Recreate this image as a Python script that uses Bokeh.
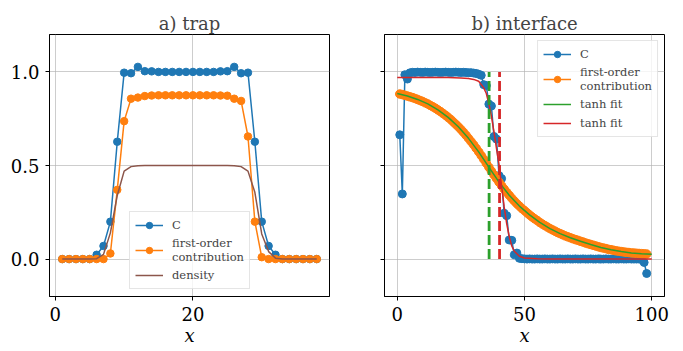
from bokeh.plotting import figure
from bokeh.layouts import row
from bokeh.models import (Range1d, FixedTicker, Legend, LegendItem,
                          ColumnDataSource, PrintfTickFormatter)
from bokeh.embed import file_html
from bokeh.resources import INLINE

# ---------------- data: a) trap ----------------
trap_x = list(range(1, 39))
trap_C = [0.0, 0.0, 0.0, 0.0, 0.0, 0.023, 0.07, 0.2, 0.627, 0.996,
          0.993, 1.027, 1.004, 1.003, 1.0, 1.0, 1.0, 1.0, 1.0, 1.0,
          1.0, 1.0, 1.0, 1.003, 1.004, 1.027, 0.993, 0.996, 0.627, 0.2,
          0.07, 0.023, 0.0, 0.0, 0.0, 0.0, 0.0, 0.0]
trap_first = [0.0, 0.0, 0.0, 0.0, 0.0, 0.0, 0.0, 0.03, 0.37, 0.737,
              0.857, 0.863, 0.871, 0.874, 0.875, 0.875, 0.875, 0.875, 0.875, 0.875,
              0.875, 0.875, 0.875, 0.874, 0.873, 0.857, 0.845, 0.655, 0.2, 0.01,
              0.0, 0.0, 0.0, 0.0, 0.0, 0.0, 0.0, 0.0]
trap_density = [0.0, 0.0, 0.0, 0.0, 0.0, 0.002, 0.025, 0.14, 0.34, 0.47,
                0.494, 0.499, 0.5, 0.5, 0.5, 0.5, 0.5, 0.5, 0.5, 0.5,
                0.5, 0.5, 0.5, 0.5, 0.5, 0.499, 0.494, 0.47, 0.357, 0.134,
                0.04, 0.005, 0.0, 0.0, 0.0, 0.0, 0.0, 0.0]

# ---------------- data: b) interface ----------------
intf_x = list(range(1, 99))
intf_C = [0.664, 0.348, 0.985, 0.962, 0.995, 0.998, 0.997, 0.999, 0.998, 0.997,
          0.999, 0.998, 0.997, 0.998, 0.999, 0.998, 0.997, 0.998, 0.999, 0.998,
          0.997, 0.998, 0.999, 0.998, 0.997, 0.998, 0.997, 0.996, 0.996, 0.994,
          0.992, 0.988, 0.982, 0.932, 0.927, 0.828, 0.818, 0.655, 0.641, 0.446,
          0.430, 0.245, 0.232, 0.102, 0.100, 0.023, 0.032, 0.004, 0.002, 0.001,
          0.0, 0.001, 0.0, 0.0, 0.001, 0.0, 0.0, 0.001, 0.0, 0.0,
          0.001, 0.0, 0.0, 0.001, 0.0, 0.0, 0.001, 0.0, 0.0, 0.001,
          0.0, 0.0, 0.001, 0.0, 0.0, 0.001, 0.0, 0.0, 0.001, 0.0,
          0.0, 0.001, 0.0, 0.0, 0.001, 0.0, 0.0, 0.001, 0.0, 0.0,
          0.001, 0.0, 0.0, 0.0, 0.0, -0.002, -0.018, -0.077]
intf_first = [0.882, 0.879, 0.875, 0.871, 0.867, 0.863, 0.858, 0.853, 0.847, 0.842,
              0.835, 0.829, 0.821, 0.814, 0.806, 0.797, 0.788, 0.778, 0.768, 0.757,
              0.746, 0.733, 0.720, 0.707, 0.693, 0.678, 0.662, 0.645, 0.628, 0.611,
              0.592, 0.573, 0.553, 0.533, 0.512, 0.491, 0.470, 0.450, 0.430, 0.411,
              0.392, 0.374, 0.357, 0.341, 0.325, 0.310, 0.296, 0.283, 0.270, 0.259,
              0.247, 0.236, 0.225, 0.215, 0.206, 0.196, 0.187, 0.179, 0.171, 0.163,
              0.156, 0.149, 0.142, 0.136, 0.130, 0.124, 0.119, 0.114, 0.109, 0.104,
              0.100, 0.095, 0.091, 0.086, 0.082, 0.078, 0.074, 0.070, 0.066, 0.062,
              0.059, 0.056, 0.052, 0.050, 0.047, 0.044, 0.042, 0.040, 0.038, 0.036,
              0.035, 0.033, 0.032, 0.031, 0.030, 0.029, 0.028, 0.027]
fit1_x = [0, 4, 8, 12, 16, 20, 24, 28, 32, 36, 40, 44, 48, 52, 56, 60, 64, 68,
          72, 76, 80, 84, 88, 92, 96, 100]
fit1_y = [0.885, 0.871, 0.853, 0.829, 0.797, 0.757, 0.707, 0.645, 0.573, 0.491,
          0.411, 0.341, 0.283, 0.236, 0.196, 0.163, 0.136, 0.114, 0.095, 0.078,
          0.062, 0.050, 0.040, 0.033, 0.029, 0.026]
fit2_x = [0, 10, 20, 25, 28, 30, 32, 34, 35, 36, 37, 38, 39, 40, 41, 42, 43,
          44, 45, 46, 48, 50, 55, 60, 80, 100]
fit2_y = [0.970, 0.970, 0.970, 0.968, 0.965, 0.960, 0.950, 0.915, 0.885, 0.830,
          0.765, 0.680, 0.590, 0.505, 0.390, 0.280, 0.190, 0.120, 0.070, 0.042,
          0.015, 0.006, 0.002, 0.001, 0.0, 0.0]
fit_centers = [36.1, 40.2]
fit_colors = ["#2ca02c", "#d62728"]
center_y0 = [0.0, 0.0]
center_y1 = [1.0, 1.0]

y_ticks = [0.0, 0.5, 1.0]

BLUE, ORANGE, GREEN, RED, BROWN = "#1f77b4", "#ff7f0e", "#2ca02c", "#d62728", "#8c564b"
SERIF = "DejaVu Serif"
H = 350
TOP = 34
BOTTOM = H - TOP - 262


def style(p, xticks, show_ylabels):
    p.outline_line_color = "black"
    p.outline_line_width = 1
    p.background_fill_color = "white"
    p.border_fill_color = "white"
    p.xaxis.ticker = FixedTicker(ticks=xticks)
    p.yaxis.ticker = FixedTicker(ticks=y_ticks)
    for ax in (p.xaxis[0], p.yaxis[0]):
        ax.axis_line_color = "black"
        ax.axis_line_width = 1
        ax.major_tick_line_color = "black"
        ax.major_tick_line_width = 1
        ax.major_tick_out = 4
        ax.major_tick_in = 0
        ax.minor_tick_line_color = None
        ax.major_label_text_font = SERIF
        ax.major_label_text_font_size = "18px"
        ax.major_label_text_color = "black"
    p.xaxis.major_label_standoff = 6
    p.yaxis.major_label_standoff = 6
    p.xaxis.axis_label = "x"
    p.xaxis.axis_label_text_font = SERIF
    p.xaxis.axis_label_text_font_style = "italic"
    p.xaxis.axis_label_text_font_size = "18px"
    p.xaxis.axis_label_text_color = "black"
    p.xaxis.axis_label_standoff = 1
    p.yaxis.formatter = PrintfTickFormatter(format="%.1f")
    if not show_ylabels:
        p.yaxis.major_label_overrides = {0: "", 0.5: "", 1: ""}
    p.grid.grid_line_color = "#b0b0b0"
    p.grid.grid_line_width = 0.8
    p.grid.grid_line_alpha = 0.8
    p.title.text_font = SERIF
    p.title.text_font_size = "18px"
    p.title.text_font_style = "normal"
    p.title.align = "center"
    p.title.standoff = 2


def make_legend(p, items, **loc):
    lg = Legend(items=items, **loc)
    lg.label_text_font = SERIF
    lg.label_text_font_size = "11.5px"
    lg.glyph_width = 28
    lg.glyph_height = 16
    lg.label_height = 16
    lg.label_standoff = 9
    lg.spacing = 3
    lg.padding = 5
    lg.border_line_color = "#cccccc"
    lg.border_line_width = 1
    lg.background_fill_alpha = 0.8
    p.add_layout(lg)


# ---------------- left figure ----------------
p1 = figure(width=345, height=H, title="a) trap", output_backend="svg",
            toolbar_location=None, x_range=Range1d(-0.85, 39.85),
            y_range=Range1d(-0.2, 1.2), min_border_left=49, min_border_right=16,
            min_border_top=TOP, min_border_bottom=BOTTOM)
style(p1, [0, 20], True)

l_c = p1.line(trap_x, trap_C, color=BLUE, line_width=1.5)
s_c = p1.scatter(trap_x, trap_C, color=BLUE, size=7.5)
l_f = p1.line(trap_x, trap_first, color=ORANGE, line_width=1.5)
s_f = p1.scatter(trap_x, trap_first, color=ORANGE, size=7.5)
l_d = p1.line(trap_x, trap_density, color=BROWN, line_width=1.5)

make_legend(p1, [LegendItem(label="C", renderers=[l_c, s_c]),
                 LegendItem(label="first-order\ncontribution", renderers=[l_f, s_f]),
                 LegendItem(label="density", renderers=[l_d])],
            location=(80, 7))

# ---------------- right figure ----------------
p2 = figure(width=330, height=H, title="b) interface", output_backend="svg",
            toolbar_location=None, x_range=Range1d(-5, 105),
            y_range=Range1d(-0.2, 1.2), min_border_left=39, min_border_right=11,
            min_border_top=TOP, min_border_bottom=BOTTOM)
style(p2, [0, 50, 100], False)

r_c = p2.line(intf_x, intf_C, color=BLUE, line_width=1.5)
r_cs = p2.scatter(intf_x, intf_C, color=BLUE, size=8)
r_f = p2.line(intf_x, intf_first, color=ORANGE, line_width=1.5)
r_fs = p2.scatter(intf_x, intf_first, color=ORANGE, size=8.5)
r_g = p2.line(fit1_x, fit1_y, color=GREEN, line_width=1.5)
r_r = p2.line(fit2_x, fit2_y, color=RED, line_width=1.5)
src = ColumnDataSource(dict(x=fit_centers, y0=center_y0, y1=center_y1, c=fit_colors))
p2.segment(x0="x", y0="y0", x1="x", y1="y1", source=src, line_color="c",
           line_width=2.8, line_dash="10 4")

make_legend(p2, [LegendItem(label="C", renderers=[r_c, r_cs]),
                 LegendItem(label="first-order\ncontribution", renderers=[r_f, r_fs]),
                 LegendItem(label="tanh fit", renderers=[r_g]),
                 LegendItem(label="tanh fit", renderers=[r_r])],
            location="top_right")
p2.legend[0].margin = 6

layout = row(p1, p2)
open("out.html", "w").write(file_html(layout, INLINE))
